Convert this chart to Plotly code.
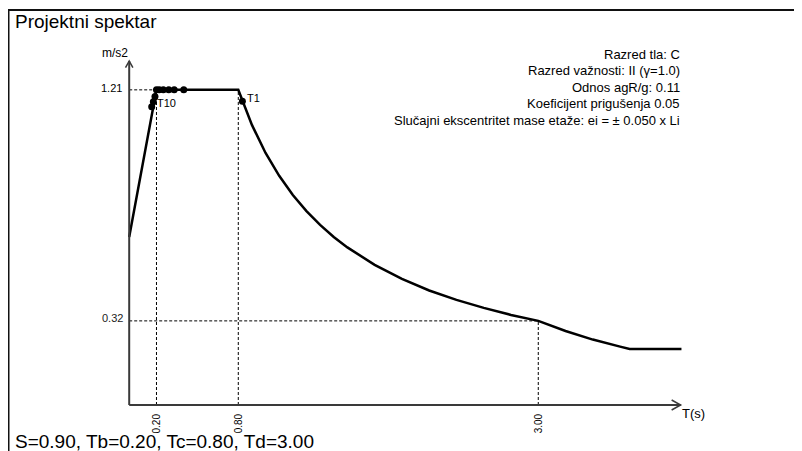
import plotly.graph_objects as go

# ---- data ----
period_T = [0.0, 0.2, 0.8, 0.9, 1.0, 1.1, 1.2, 1.3, 1.4, 1.5, 1.6, 1.8, 2.0,
            2.2, 2.4, 2.6, 2.8, 3.0, 3.2, 3.4, 3.6, 3.67, 4.05]
spectrum_Sd = [0.647, 1.214, 1.214, 1.079, 0.971, 0.883, 0.809, 0.747, 0.694,
               0.647, 0.607, 0.540, 0.486, 0.441, 0.405, 0.374, 0.347, 0.324,
               0.285, 0.252, 0.225, 0.216, 0.216]

mode_labels = ["T1", "T2", "T3", "T4", "T5", "T6", "T7", "T8", "T9", "T10"]
mode_T = [0.83, 0.40, 0.33, 0.29, 0.25, 0.22, 0.20, 0.189, 0.177, 0.165]
mode_Sd = [1.170, 1.214, 1.214, 1.214, 1.214, 1.214, 1.214, 1.188, 1.168, 1.149]

Tb, Tc, Td = 0.20, 0.80, 3.00
Sd_plateau_label = "1.21"
Sd_plateau = 1.214
Sd_Td_label = "0.32"
Sd_Td = 0.324
x_tick_labels = ["0.20", "0.80", "3.00"]
x_tick_vals = [Tb, Tc, Td]

info_lines = [
    "Razred tla: C",
    "Razred važnosti: II (γ=1.0)",
    "Odnos agR/g: 0.11",
    "Koeficijent prigušenja 0.05",
    "Slučajni ekscentritet mase etaže: ei = ± 0.050 x Li",
]
title_text = "Projektni spektar"
footer_text = "S=0.90, Tb=0.20, Tc=0.80, Td=3.00"

AXIS_T_END = 4.044
AXIS_SD_END = 1.325

# ---- layout geometry (page pixels; the page body adds an 8px margin) ----
OFF = 8
PAGE_W, PAGE_H = 802, 451
W, H = PAGE_W - OFF, PAGE_H - OFF
X0PX, XSCALE = 129.2 - OFF, 136.36
Y0PX, YSCALE = 405.0 - OFF, 259.6
xr = [-X0PX / XSCALE, (W - X0PX) / XSCALE]
yr = [-(H - Y0PX) / YSCALE, Y0PX / YSCALE]

def px(x):
    return (x - OFF) / W

def py(y):
    return 1 - (y - OFF) / H

FONT = "Liberation Sans, Arial, sans-serif"

fig = go.Figure()

fig.add_trace(go.Scatter(x=period_T, y=spectrum_Sd, mode="lines",
                         line=dict(color="black", width=2.5),
                         hoverinfo="skip", showlegend=False))

fig.add_trace(go.Scatter(x=mode_T, y=mode_Sd, mode="markers",
                         marker=dict(color="black", size=7),
                         text=mode_labels, hoverinfo="text", showlegend=False))

shapes = []
dash = "3px,2px"
for tv, sv in [(Tb, Sd_plateau), (Tc, Sd_plateau), (Td, Sd_Td)]:
    shapes.append(dict(type="line", x0=tv, x1=tv, y0=0, y1=sv, xref="x", yref="y",
                       line=dict(color="black", width=1, dash=dash)))
shapes.append(dict(type="line", x0=0, x1=Tb, y0=Sd_plateau, y1=Sd_plateau,
                   xref="x", yref="y", line=dict(color="black", width=1, dash=dash)))
shapes.append(dict(type="line", x0=0, x1=Td, y0=Sd_Td, y1=Sd_Td,
                   xref="x", yref="y", line=dict(color="black", width=1, dash=dash)))

axc = "#3a3a3a"
shapes.append(dict(type="line", x0=0, x1=AXIS_T_END, y0=0, y1=0, xref="x", yref="y",
                   line=dict(color=axc, width=2)))
shapes.append(dict(type="line", x0=0, x1=0, y0=0, y1=AXIS_SD_END, xref="x", yref="y",
                   line=dict(color=axc, width=2)))
adx, ady = 9 / XSCALE, 5 / YSCALE
shapes.append(dict(type="path", xref="x", yref="y",
                   path=f"M {AXIS_T_END-adx},{ady} L {AXIS_T_END},0 L {AXIS_T_END-adx},{-ady}",
                   line=dict(color=axc, width=1.5)))
bdx, bdy = 3.7 / XSCALE, 6.5 / YSCALE
shapes.append(dict(type="path", xref="x", yref="y",
                   path=f"M {-bdx},{AXIS_SD_END-bdy} L 0,{AXIS_SD_END} L {bdx},{AXIS_SD_END-bdy}",
                   line=dict(color=axc, width=1.5)))
# outer frame
shapes.append(dict(type="line", xref="paper", yref="paper", x0=px(8.5), x1=px(8.5),
                   y0=py(10), y1=0, line=dict(color="#111", width=2)))
shapes.append(dict(type="line", xref="paper", yref="paper", x0=px(8), x1=1,
                   y0=py(10), y1=py(10), line=dict(color="#111", width=2)))

ann = []
ann.append(dict(text=title_text, xref="paper", yref="paper", x=px(13), y=py(21.5),
                xanchor="left", yanchor="middle", showarrow=False,
                font=dict(family=FONT, size=19, color="black")))
ann.append(dict(text=footer_text, xref="paper", yref="paper", x=px(13), y=py(441),
                xanchor="left", yanchor="middle", showarrow=False,
                font=dict(family=FONT, size=19, color="black")))
for i, line in enumerate(info_lines):
    ann.append(dict(text=line, xref="paper", yref="paper", x=px(682),
                    y=py(54 + 16.5 * i), xanchor="right", yanchor="middle",
                    showarrow=False, font=dict(family=FONT, size=13, color="black")))
ann.append(dict(text="m/s2", xref="x", yref="y", x=0, y=AXIS_SD_END, xanchor="right",
                yanchor="middle", xshift=1, yshift=8, showarrow=False,
                font=dict(family=FONT, size=12, color="black")))
ann.append(dict(text="T(s)", xref="x", yref="y", x=AXIS_T_END, y=0, xanchor="left",
                yanchor="middle", xshift=-1, yshift=-8, showarrow=False,
                font=dict(family=FONT, size=13, color="black")))
ann.append(dict(text=Sd_plateau_label, xref="x", yref="y", x=0, y=Sd_plateau,
                xanchor="right", yanchor="middle", xshift=-5, yshift=2, showarrow=False,
                font=dict(family=FONT, size=11, color="black")))
ann.append(dict(text=Sd_Td_label, xref="x", yref="y", x=0, y=Sd_Td,
                xanchor="right", yanchor="middle", xshift=-4, yshift=3, showarrow=False,
                font=dict(family=FONT, size=11, color="#222")))
for tv, tl in zip(x_tick_vals, x_tick_labels):
    ann.append(dict(text=tl, xref="x", yref="y", x=tv, y=0, xanchor="center",
                    yanchor="top", textangle=-90, yshift=-6, showarrow=False,
                    font=dict(family=FONT, size=10, color="black")))
ann.append(dict(text=mode_labels[0], xref="x", yref="y", x=mode_T[0], y=mode_Sd[0],
                xanchor="left", yanchor="middle", xshift=3, yshift=3, showarrow=False,
                font=dict(family=FONT, size=11, color="black")))
ann.append(dict(text=mode_labels[-1], xref="x", yref="y", x=mode_T[-1], y=mode_Sd[-1],
                xanchor="left", yanchor="middle", xshift=3, yshift=4, showarrow=False,
                font=dict(family=FONT, size=11, color="black")))

fig.update_layout(
    width=W, height=H, margin=dict(l=0, r=0, t=0, b=0),
    paper_bgcolor="white", plot_bgcolor="white",
    xaxis=dict(range=xr, visible=False, fixedrange=True),
    yaxis=dict(range=yr, visible=False, fixedrange=True),
    shapes=shapes, annotations=ann, showlegend=False,
)

fig.write_html("out.html")
